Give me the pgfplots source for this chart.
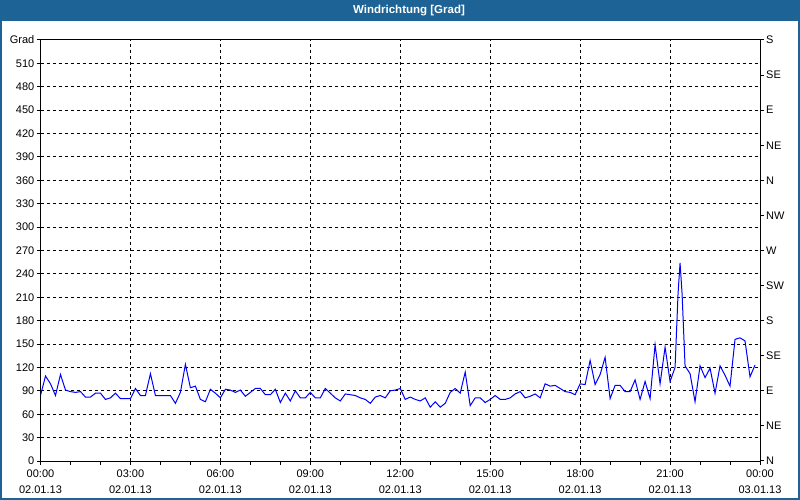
\documentclass[border=0pt]{standalone}
\usepackage{fontspec}
\setmainfont{Liberation Sans}
\usepackage{pgfplots}
\pgfplotsset{compat=1.18}
\definecolor{titlebar}{RGB}{30,99,150}
\definecolor{lineblue}{RGB}{0,0,255}

% wind direction, one value every 10 minutes (x = index, 0 = 02.01.13 00:00)
\pgfplotstableread{
i v
0 84
1 109
2 99
3 84
4 111
5 91
6 89
7 88
8 89
9 82
10 82
11 87
12 87
13 79
14 81
15 87
16 80
17 80
18 80
19 93
20 84
21 84
22 112
23 84
24 84
25 84
26 84
27 74
28 88
29 124
30 94
31 96
32 79
33 76
34 92
35 87
36 81
37 92
38 91
39 88
40 91
41 83
42 88
43 93
44 93
45 85
46 85
47 92
48 75
49 87
50 77
51 90
52 81
53 81
54 88
55 81
56 81
57 93
58 87
59 81
60 77
61 86
62 85
63 84
64 81
65 79
66 74
67 82
68 84
69 81
70 90
71 91
72 93
73 79
74 82
75 79
76 77
77 81
78 69
79 76
80 69
81 74
82 88
83 93
84 87
85 114
86 71
87 81
88 81
89 75
90 79
91 84
92 79
93 79
94 81
95 86
96 89
97 81
98 83
99 86
100 81
101 99
102 96
103 97
104 93
105 89
106 88
107 85
108 99
109 98
110 129
111 98
112 111
113 133
114 80
115 97
116 97
117 89
118 89
119 104
120 79
121 102
122 80
123 149
124 99
125 146
126 102
127 120
127.6 215
128 254
128.4 215
129 122
130 112
131 76
132 122
133 107
134 119
135 87
136 122
137 110
138 96
139 156
140 158
141 154
142 108
143 123
}\winddata

\begin{document}
\begin{tikzpicture}[font=\fontsize{11bp}{13bp}\selectfont]
\path[use as bounding box] (0,0) rectangle (800bp,500bp);
\fill[white] (0,0) rectangle (800bp,500bp);
\fill[titlebar] (0,479bp) rectangle (800bp,500bp);
\draw[titlebar, line width=2bp] (1bp,1bp) rectangle (799bp,499bp);
\node[text=white, font=\fontsize{11.5bp}{13bp}\selectfont\bfseries] at (409bp,489.5bp) {Windrichtung [Grad]};

\begin{axis}[
    at={(40.5bp,39bp)},
    anchor=south west,
    scale only axis,
    width=719.5bp,
    height=421bp,
    xmin=0, xmax=144,
    ymin=0, ymax=540,
    axis line style={black, line width=1bp},
    xtick={0,18,...,144},
    xticklabels={00:00\\02.01.13, 03:00\\02.01.13, 06:00\\02.01.13, 09:00\\02.01.13,
        12:00\\02.01.13, 15:00\\02.01.13, 18:00\\02.01.13, 21:00\\02.01.13, 00:00\\03.01.13},
    xticklabel style={align=center, inner sep=1bp, yshift=-4bp,
        font=\fontsize{11bp}{16bp}\selectfont},
    minor xtick={6,12,24,30,36,42,48,54,60,66,72,78,84,90,96,102,108,114,120,126,132,138},
    ytick={0,30,...,540},
    yticklabels={0,30,60,90,120,150,180,210,240,270,300,330,360,390,420,450,480,510,Grad},
    yticklabel style={inner sep=1bp, xshift=-1bp},
    xtick pos=lower, ytick pos=left,
    tick align=outside,
    major tick length=4bp,
    minor tick length=4bp,
    tick style={black, line width=1bp},
    grid=major,
    major grid style={black, line width=1bp, dash pattern=on 3bp off 3bp},
]
\addplot[lineblue, line width=1bp] table[x=i, y=v] {\winddata};
\end{axis}

\begin{axis}[
    at={(40.5bp,39bp)},
    anchor=south west,
    scale only axis,
    width=719.5bp,
    height=421bp,
    xmin=0, xmax=144,
    ymin=0, ymax=540,
    axis x line=none,
    axis y line*=right,
    axis line style={black, line width=1bp},
    ytick={0,45,...,540},
    yticklabels={N,NE,E,SE,S,SW,W,NW,N,NE,E,SE,S},
    yticklabel style={inner sep=1bp, xshift=1bp},
    tick align=outside,
    major tick length=4bp,
    tick style={black, line width=1bp},
]
\end{axis}
\end{tikzpicture}
\end{document}
